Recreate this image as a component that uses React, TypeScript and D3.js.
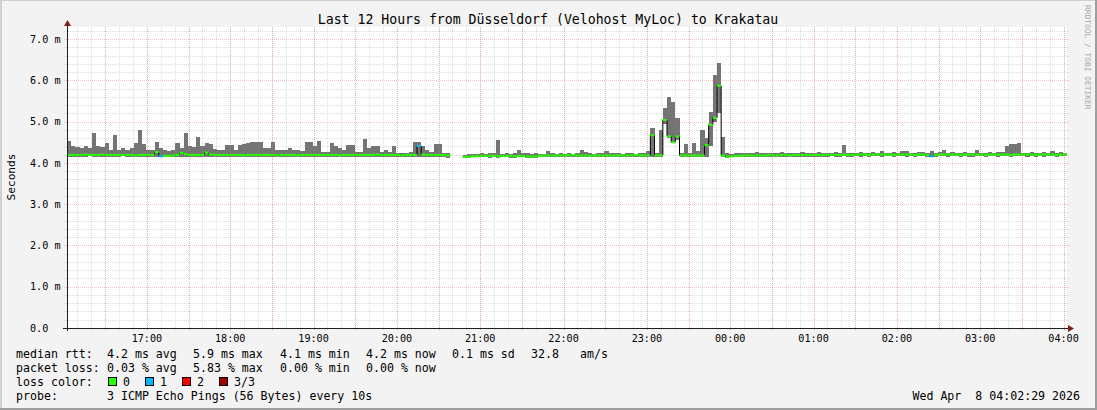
import React from 'react';
import * as d3 from 'd3';

// ---- data (values in 1/100 ms) ----
const START = Date.UTC(2026, 3, 7, 16, 2, 29);
const END = Date.UTC(2026, 3, 8, 4, 2, 29);
const STEP_MIN = 3;

const medianRtt: (number | null)[] = [
  419,419,419,419,420,419,419,419,420,419,
  419,419,419,419,419,419,418,419,419,419,
  419,426,416,417,417,418,419,424,421,419,
  419,419,419,425,420,419,419,419,419,419,
  419,419,418,419,419,419,419,419,419,419,
  418,419,419,419,419,418,419,419,419,419,
  419,419,419,419,419,418,419,419,419,419,
  419,419,419,419,420,419,419,419,419,419,
  418,419,419,419,441,420,419,419,419,419,
  419,418,null,null,null,414,415,416,417,417,
  417,417,417,416,417,417,417,416,417,417,
  415,415,416,417,418,418,418,418,418,418,
  418,419,418,418,418,417,418,418,418,418,
  418,418,418,418,418,418,419,418,418,418,
  467,418,418,504,464,450,464,418,418,418,
  418,418,418,443,492,509,587,418,415,416,
  417,417,418,418,418,418,418,418,419,418,
  418,419,419,418,419,419,419,419,419,419,
  419,419,419,420,419,419,420,419,419,420,
  420,420,419,420,420,420,420,420,419,420,
  420,420,420,419,420,420,419,416,419,420,
  420,420,420,420,419,420,420,420,420,420,
  419,420,420,420,420,420,419,420,420,420,
  420,420,419,420,420,420,420,419,420,420,
];

const maxRtt: (number | null)[] = [
  453,440,438,437,440,436,473,440,438,449,
  430,467,432,435,430,436,447,480,445,432,
  430,451,437,430,428,430,447,435,473,440,
  438,463,440,447,446,433,432,430,443,443,
  430,443,446,447,451,451,451,437,435,451,
  430,432,430,437,430,432,428,451,451,440,
  453,427,427,449,440,435,430,443,443,427,
  427,458,435,440,440,427,430,427,440,425,
  425,425,426,451,451,440,430,427,446,446,
  423,423,null,null,null,420,421,421,422,425,
  422,423,424,455,422,423,422,424,430,423,
  423,422,424,421,422,428,423,422,423,422,
  423,422,423,430,427,423,422,425,423,428,
  423,424,423,422,425,423,422,423,423,429,
  485,425,480,532,560,548,509,423,445,425,
  447,428,480,461,524,613,643,462,424,422,
  423,424,423,425,424,426,423,424,425,424,
  423,426,424,425,424,423,426,424,425,424,
  426,424,425,424,426,423,443,424,425,424,
  426,425,424,427,425,429,425,424,426,425,
  429,429,425,424,426,427,425,428,424,426,
  430,425,427,424,425,426,424,425,431,425,
  424,426,425,427,426,441,445,445,447,425,
  424,426,425,424,426,425,428,424,426,425,
];

const minRtt: (number | null)[] = [
  414,415,415,414,415,416,414,415,415,414,
  415,414,415,416,414,415,413,414,415,415,
  414,415,414,413,414,415,414,415,414,413,
  414,415,414,415,413,414,415,414,413,415,
  414,415,414,413,414,415,414,414,413,415,
  414,413,415,414,414,413,415,414,414,415,
  413,414,415,414,413,415,414,414,413,415,
  414,413,415,414,414,415,413,414,415,414,
  414,415,413,414,414,413,415,414,413,414,
  413,412,null,null,null,412,412,413,413,413,
  413,412,413,412,413,413,412,412,413,413,
  412,411,412,413,413,414,413,413,414,414,
  414,414,413,414,414,413,413,414,414,414,
  414,413,413,414,414,414,414,413,414,414,
  415,414,414,495,460,448,455,414,413,413,
  414,414,414,415,440,500,520,415,412,413,
  413,414,414,414,415,415,414,414,415,414,
  414,415,415,414,415,415,414,415,415,415,
  415,414,415,416,415,415,416,415,415,416,
  415,416,415,416,416,415,416,416,415,416,
  416,415,416,415,416,416,415,413,415,416,
  416,415,416,416,415,416,415,415,416,416,
  415,416,416,415,416,416,415,416,416,416,
  415,416,415,416,415,416,416,415,416,416,
];

const loss1Indices = [22, 84, 207];

const yTickValues = [0, 1, 2, 3, 4, 5, 6, 7];

const lossLegend = [
  { label: '0', color: '#26ff00' },
  { label: '1', color: '#00b8ff' },
  { label: '2', color: '#ff0000' },
  { label: '3/3', color: '#a00000' },
];

const medianLegend = ['4.2 ms avg', '5.9 ms max', '4.1 ms min', '4.2 ms now', '0.1 ms sd', '32.8', 'am/s'];
const lossStats = ['0.03 % avg', '5.83 % max', '0.00 % min', '0.00 % now'];

const TITLE = 'Last 12 Hours from Düsseldorf (Velohost MyLoc) to Krakatau';
const PROBE = '3 ICMP Echo Pings (56 Bytes) every 10s';
const STAMP = 'Wed Apr  8 04:02:29 2026';

// ---- layout ----
const W = 1097, H = 410;
const L = 67, R = 1067, T = 27, B = 328;
const FONT = "'DejaVu Sans Mono', monospace";

export default function App() {
  const x = d3.scaleUtc().domain([new Date(START), new Date(END)]).range([L, R]);
  const y = d3.scaleLinear().domain([0, (B - T) / ((B - 39) / 7)]).range([B, T]);
  const tAt = (i: number) => new Date(START + i * STEP_MIN * 60000);
  const v = (n: number) => n / 100;

  const minor10 = d3.utcMinute.every(10)!.range(new Date(START), new Date(END + 1));
  const major30 = d3.utcMinute.every(30)!.range(new Date(START), new Date(END + 1));
  const hours = d3.utcHour.every(1)!.range(new Date(START), new Date(END + 1));
  const fmt = d3.utcFormat('%H:%M');

  const yMinor: number[] = [];
  for (let k = 1; k <= 36; k++) if (k % 5 !== 0) yMinor.push(k / 5);

  const stepPts: ({ t: Date; val: number } | null)[] = [];
  medianRtt.forEach((m, i) => {
    if (m == null) { stepPts.push(null); return; }
    stepPts.push({ t: tAt(i), val: v(m) });
    stepPts.push({ t: tAt(i + 1), val: v(m) });
  });
  const line = d3.line<any>()
    .defined((d) => d != null)
    .x((d) => x(d.t))
    .y((d) => y(d.val));

  const minorColor = 'rgba(143,143,143,0.3)';
  const majorColor = 'rgba(235,90,90,0.38)';

  return (
    <div style={{ position: 'absolute', left: 0, top: 0 }}>
      <svg width={W} height={H} style={{ display: 'block' }} fontFamily={FONT}>
        <rect x={0} y={0} width={W} height={H} fill="#f3f3f3" />
        <rect x={0} y={0} width={2} height={H} fill="#cfcfcf" />
        <rect x={0} y={0} width={W} height={1} fill="#cfcfcf" />
        <rect x={W - 2} y={0} width={2} height={H} fill="#9e9e9e" />
        <rect x={0} y={H - 2} width={W} height={2} fill="#9e9e9e" />
        <rect x={L} y={T} width={R - L} height={B - T} fill="#ffffff" />

        {/* smoke */}
        <g shapeRendering="crispEdges">
          {maxRtt.map((mx, i) => {
            const mn = minRtt[i];
            if (mx == null || mn == null) return null;
            const x0 = Math.round(x(tAt(i))), x1 = Math.round(x(tAt(i + 1)));
            return <rect key={'s' + i} x={x0} y={y(v(mx))} width={x1 - x0} height={y(v(mn)) - y(v(mx))} fill="#747474" />;
          })}
        </g>

        {/* median */}
        <path d={line(stepPts) || ''} fill="none" stroke="#000" strokeWidth={1} />
        {medianRtt.map((m, i) => {
          if (m == null) return null;
          const c = loss1Indices.includes(i) ? lossLegend[1].color : lossLegend[0].color;
          return <line key={'m' + i} x1={x(tAt(i))} x2={x(tAt(i + 1))} y1={y(v(m))} y2={y(v(m))} stroke={c} strokeWidth={2.2} />;
        })}

        {/* grid */}
        <g shapeRendering="crispEdges">
          {yMinor.map((g) => (
            <line key={'ym' + g} x1={L - 3} x2={R + 2} y1={Math.round(y(g)) + 0.5} y2={Math.round(y(g)) + 0.5} stroke={minorColor} strokeDasharray="1,1" />
          ))}
          {minor10.map((t) => (
            <line key={'xm' + +t} x1={Math.round(x(t)) + 0.5} x2={Math.round(x(t)) + 0.5} y1={T} y2={B + 3} stroke={minorColor} strokeDasharray="1,1" />
          ))}
          {yTickValues.filter((g) => g > 0).map((g) => (
            <line key={'yM' + g} x1={L - 3} x2={R + 2} y1={Math.round(y(g)) + 0.5} y2={Math.round(y(g)) + 0.5} stroke={majorColor} strokeDasharray="1,1" />
          ))}
          {major30.map((t) => (
            <line key={'xM' + +t} x1={Math.round(x(t)) + 0.5} x2={Math.round(x(t)) + 0.5} y1={T} y2={B + 3} stroke={majorColor} strokeDasharray="1,1" />
          ))}
        </g>

        {/* axes */}
        <g shapeRendering="crispEdges">
          <line x1={L - 4} x2={R + 4} y1={B + 0.5} y2={B + 0.5} stroke="#1f1f1f" />
          <line x1={L + 0.5} x2={L + 0.5} y1={B + 3} y2={T - 2} stroke="#1f1f1f" />
        </g>
        <path d={`M${R + 1},${B - 3}L${R + 1},${B + 4}L${R + 7},${B + 0.5}Z`} fill="#801f1f" />
        <path d={`M${L - 3},${T - 1}L${L + 4},${T - 1}L${L + 0.5},${T - 7}Z`} fill="#801f1f" />

        {/* y labels */}
        {yTickValues.map((g) => (
          <text key={'yl' + g} x={60.5} y={y(g) + 3.7} fontSize={10.15} textAnchor="end" fill="#000" xmlSpace="preserve" style={{ whiteSpace: 'pre' }}>
            {g === 0 ? '0.0  ' : `${g.toFixed(1)} m`}
          </text>
        ))}
        {/* x labels */}
        {hours.map((t) => (
          <text key={'xl' + +t} x={x(t)} y={341.5} fontSize={10.15} textAnchor="middle" fill="#000">{fmt(t)}</text>
        ))}

        {/* title & unit */}
        <text x={548} y={23.5} fontSize={13.2} textAnchor="middle" fill="#000">{TITLE}</text>
        <text transform="translate(15,177) rotate(-90)" fontSize={11.2} textAnchor="middle" fill="#000">Seconds</text>
        <text transform="translate(1085,5) rotate(90)" fontSize={7.9} fill="#a8a8a8">RRDTOOL / TOBI OETIKER</text>

        {/* legend */}
        <g fontSize={11.6} fill="#000">
          <text x={16} y={358}>median rtt:</text>
          {medianLegend.map((s, k) => (
            <text key={'ml' + k} x={[107, 193, 280, 366, 452, 531, 580][k]} y={358}>{s}</text>
          ))}
          <text x={16} y={372}>packet loss:</text>
          {lossStats.map((s, k) => (
            <text key={'pl' + k} x={[107, 193, 280, 366][k]} y={372}>{s}</text>
          ))}
          <text x={16} y={386}>loss color:</text>
          {lossLegend.map((l, k) => {
            const bx = [108, 145, 182, 219][k];
            return (
              <g key={'lc' + k}>
                <rect x={bx + 0.5} y={377.5} width={8} height={8} fill={l.color} stroke="#000" strokeWidth={1} shapeRendering="crispEdges" />
                <text x={bx + 15} y={386}>{l.label}</text>
              </g>
            );
          })}
          <text x={16} y={400}>probe:</text>
          <text x={107} y={400}>{PROBE}</text>
          <text x={1080} y={400} textAnchor="end" xmlSpace="preserve" style={{ whiteSpace: 'pre' }}>{STAMP}</text>
        </g>
      </svg>
    </div>
  );
}
